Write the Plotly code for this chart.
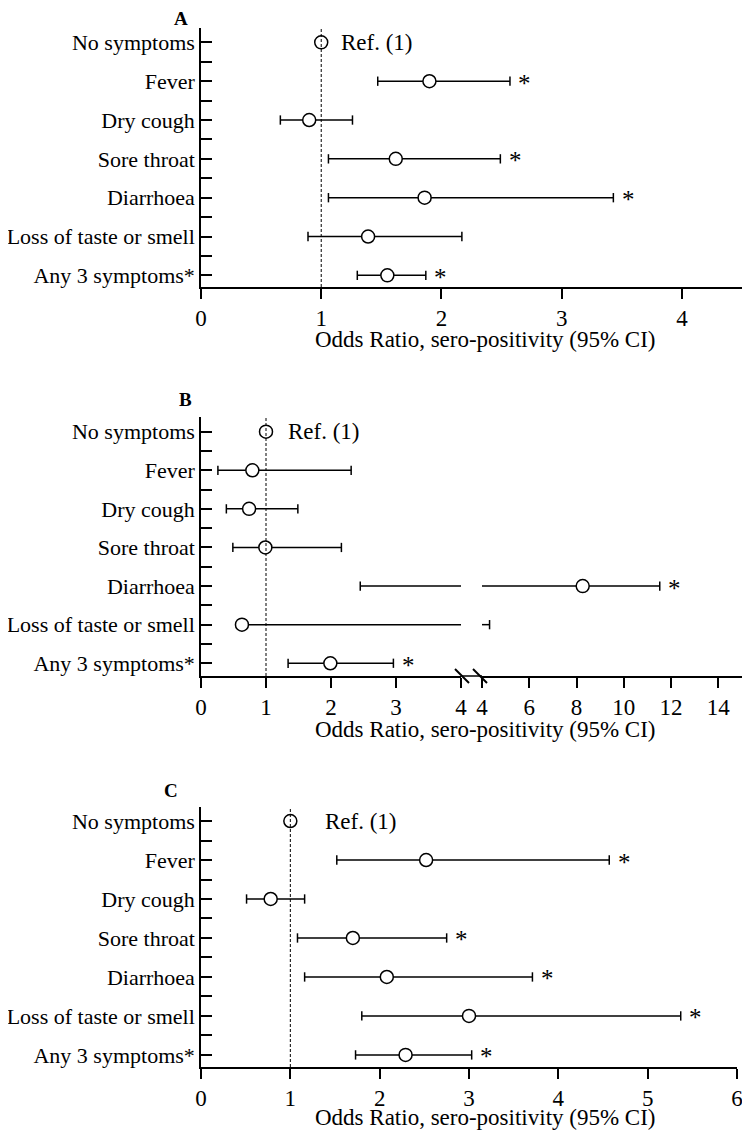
import plotly.graph_objects as go

categories = ["No symptoms", "Fever", "Dry cough", "Sore throat", "Diarrhoea",
              "Loss of taste or smell", "Any 3 symptoms*"]
ref_label = "Ref. (1)"
x_title = "Odds Ratio, sero-positivity (95% CI)"

# Panel A
a_or = [1.0, 1.90, 0.90, 1.62, 1.86, 1.39, 1.55]
a_low = [None, 1.47, 0.66, 1.06, 1.06, 0.89, 1.30]
a_high = [None, 2.57, 1.26, 2.49, 3.43, 2.17, 1.87]
a_sig = [False, True, False, True, True, False, True]
a_ticks = [0, 1, 2, 3, 4]

# Panel B (broken x axis at 4)
b_or = [1.0, 0.79, 0.74, 0.99, 8.26, 0.63, 1.99]
b_low = [None, 0.26, 0.39, 0.49, 2.45, 0.60, 1.34]
b_high = [None, 2.31, 1.49, 2.16, 11.52, 4.32, 2.96]
b_sig = [False, False, False, False, True, False, True]
b_ticks_left = [0, 1, 2, 3, 4]
b_ticks_right = [4, 6, 8, 10, 12, 14]
b_break = 4

# Panel C
c_or = [1.0, 2.52, 0.78, 1.70, 2.08, 3.00, 2.29]
c_low = [None, 1.52, 0.51, 1.08, 1.16, 1.80, 1.73]
c_high = [None, 4.57, 1.16, 2.75, 3.71, 5.37, 3.03]
c_sig = [False, True, False, True, True, True, True]
c_ticks = [0, 1, 2, 3, 4, 5, 6]

OFF = 8                      # default page margin of the browser
W, H = 750 - OFF, 1131 - OFF
FONT = "Liberation Serif"
FS = 23
FS_CAT = 22
LW = 1.5
CAP = 0.12


def px(x):
    return (x - OFF) / W


def py(y):
    return 1 - (y - OFF) / H


fig = go.Figure()


def add_ci(xaxis, yaxis, i, lo, hi, cap_lo=True, cap_hi=True):
    fig.add_trace(go.Scatter(x=[lo, hi], y=[i, i], mode="lines",
                             line=dict(color="black", width=LW),
                             xaxis=xaxis, yaxis=yaxis, showlegend=False, hoverinfo="skip"))
    for v, show in ((lo, cap_lo), (hi, cap_hi)):
        if show:
            fig.add_trace(go.Scatter(x=[v, v], y=[i - CAP, i + CAP], mode="lines",
                                     line=dict(color="black", width=LW),
                                     xaxis=xaxis, yaxis=yaxis, showlegend=False, hoverinfo="skip"))


def add_point(x, i, xaxis, yaxis):
    fig.add_trace(go.Scatter(x=[x], y=[i], mode="markers",
                             marker=dict(symbol="circle", size=13, color="white",
                                         line=dict(color="black", width=LW)),
                             xaxis=xaxis, yaxis=yaxis, showlegend=False))


def star(x, i, xref, yref):
    fig.add_annotation(x=x, y=i, xref=xref, yref=yref, text="*", showarrow=False,
                       xanchor="center", yanchor="middle", xshift=15, yshift=-2,
                       font=dict(family=FONT, size=25, color="black"))


# ---------- Panel A ----------
for i in range(len(categories)):
    if a_low[i] is not None:
        add_ci("x", "y", i, a_low[i], a_high[i])
        if a_sig[i]:
            star(a_high[i], i, "x", "y")
    add_point(a_or[i], i, "x", "y")

# ---------- Panel B ----------
for i in range(len(categories)):
    lo, hi = b_low[i], b_high[i]
    if lo is not None:
        if hi <= b_break:
            add_ci("x2", "y2", i, lo, hi)
        elif lo >= b_break:
            add_ci("x3", "y2", i, lo, hi)
        else:
            add_ci("x2", "y2", i, lo, b_break, cap_lo=True, cap_hi=False)
            add_ci("x3", "y2", i, b_break, hi, cap_lo=False, cap_hi=True)
        if b_sig[i]:
            star(hi, i, "x3" if hi > b_break else "x2", "y2")
    if b_or[i] <= b_break:
        add_point(b_or[i], i, "x2", "y2")
    else:
        add_point(b_or[i], i, "x3", "y2")

# ---------- Panel C ----------
for i in range(len(categories)):
    if c_low[i] is not None:
        add_ci("x4", "y4", i, c_low[i], c_high[i])
        if c_sig[i]:
            star(c_high[i], i, "x4", "y4")
    add_point(c_or[i], i, "x4", "y4")


def xaxis_cfg(domain, rng, tickvals, anchor):
    return dict(domain=domain, range=rng, tickmode="array", tickvals=tickvals,
                ticktext=[str(t) for t in tickvals],
                showline=True, linecolor="black", linewidth=LW,
                ticks="outside", ticklen=10, tickwidth=LW, tickcolor="black",
                showgrid=False, zeroline=False, anchor=anchor, automargin=False,
                ticklabeloverflow="allow",
                tickfont=dict(family=FONT, size=FS, color="black"), fixedrange=True)


def yaxis_cfg(domain, rng, anchor):
    return dict(domain=domain, range=rng, tickmode="array",
                tickvals=list(range(len(categories))), ticktext=categories,
                showline=True, linecolor="black", linewidth=LW,
                ticks="inside", ticklen=11, tickwidth=LW, tickcolor="black",
                minor=dict(tickvals=[k + 0.5 for k in range(len(categories) - 1)],
                           ticks="inside", ticklen=11, tickwidth=LW, tickcolor="black"),
                showgrid=False, zeroline=False, anchor=anchor, automargin=False,
                ticklabeloverflow="allow",
                tickfont=dict(family=FONT, size=FS_CAT, color="black"), fixedrange=True)


# Panel geometry (pixels in the final screenshot)
A_top, A_bot = 28, 287
B_top, B_bot = 417, 676
C_top, C_bot = 807, 1067
xl, xr = 201, 742
xr_c = 737
b_mid_l, b_mid_r = 461, 482

fig.update_layout(
    width=W, height=H, margin=dict(l=0, r=0, t=0, b=0, autoexpand=False),
    paper_bgcolor="white", plot_bgcolor="white", showlegend=False,
    xaxis=xaxis_cfg([px(xl), px(xr)], [0, 4.5], a_ticks, "y"),
    yaxis=yaxis_cfg([py(A_bot), py(A_top)], [6.30, -0.37], "x"),
    xaxis2=xaxis_cfg([px(xl), px(b_mid_l)], [0, b_break], b_ticks_left, "y2"),
    xaxis3=xaxis_cfg([px(b_mid_r), px(xr)], [b_break, 15], b_ticks_right, "y2"),
    yaxis2=yaxis_cfg([py(B_bot), py(B_top)], [6.33, -0.38], "x2"),
    xaxis4=xaxis_cfg([px(xl), px(xr_c)], [0, 6], c_ticks, "y4"),
    yaxis4=yaxis_cfg([py(C_bot), py(C_top)], [6.31, -0.36], "x4"),
)

# Reference lines at OR = 1
for xr_, yr_ in (("x", "y"), ("x2", "y2"), ("x4", "y4")):
    fig.add_shape(type="line", xref=xr_, yref=yr_ + " domain", x0=1, x1=1, y0=0, y1=1,
                  line=dict(color="black", width=1, dash="3px,2px"), layer="above")

# Ref labels
for xr_, yr_, sh in (("x", "y", 18), ("x2", "y2", 20), ("x4", "y4", 33)):
    fig.add_annotation(x=1, y=0, xref=xr_, yref=yr_, text=ref_label, showarrow=False,
                       xanchor="left", yanchor="middle", xshift=sh,
                       font=dict(family=FONT, size=FS, color="black"))

# Axis break in panel B
fig.add_shape(type="line", xref="paper", yref="paper", x0=px(b_mid_l), x1=px(b_mid_r),
              y0=py(B_bot), y1=py(B_bot), line=dict(color="black", width=LW))
for x0 in (455, 473):
    fig.add_shape(type="line", xref="paper", yref="paper", x0=px(x0), x1=px(x0 + 14),
                  y0=py(B_bot - 7), y1=py(B_bot + 7), line=dict(color="black", width=2))

# Axis titles
for ytitle in (340, 729, 1117):
    fig.add_annotation(x=px(485), y=py(ytitle), xref="paper", yref="paper", text=x_title,
                       showarrow=False, xanchor="center", yanchor="middle",
                       font=dict(family=FONT, size=FS, color="black"))

# Panel letters
for letter, lx, ly in (("A", 181, 19), ("B", 185, 399), ("C", 171, 790)):
    fig.add_annotation(x=px(lx), y=py(ly), xref="paper", yref="paper", text="<b>%s</b>" % letter,
                       showarrow=False, xanchor="center", yanchor="middle",
                       font=dict(family=FONT, size=19, color="black"))

fig.write_html("out.html")
